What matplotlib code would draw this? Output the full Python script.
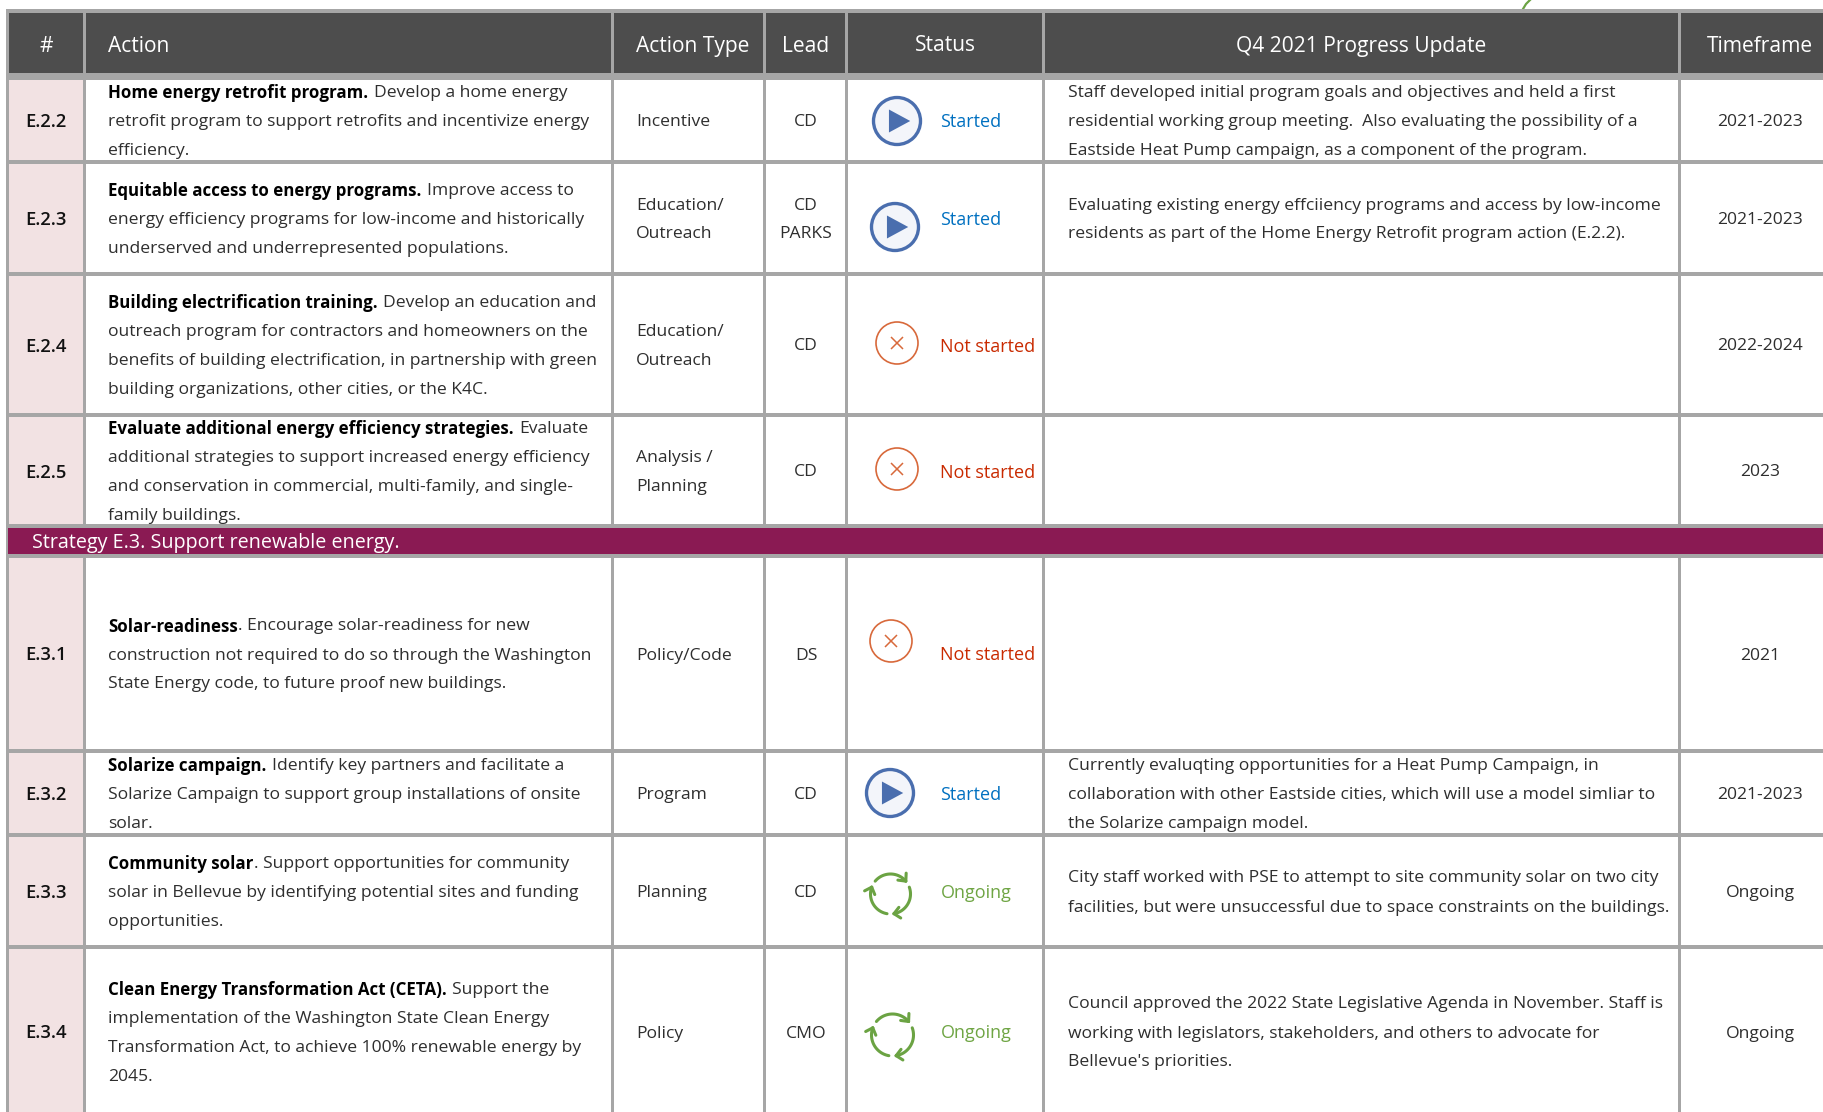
import numpy as np
import matplotlib
matplotlib.use("Agg")
import matplotlib.pyplot as plt
from matplotlib.patches import Rectangle, Circle, Polygon

FONT = "Open Sans"
plt.rcParams["font.family"] = [FONT, "DejaVu Sans"]

# table content
headers = ["#", "Action", "Action Type", "Lead", "Status", "Q4 2021 Progress Update", "Timeframe"]
ids = ["E.2.2", "E.2.3", "E.2.4", "E.2.5", "E.3.1", "E.3.2", "E.3.3", "E.3.4"]
bold_parts = [
    "Home energy retrofit program.",
    "Equitable access to energy programs.",
    "Building electrification training.",
    "Evaluate additional energy efficiency strategies.",
    "Solar-readiness",
    "Solarize campaign.",
    "Community solar",
    "Clean Energy Transformation Act (CETA).",
]
action_lines = [
    [" Develop a home energy", "retrofit program to support retrofits and incentivize energy", "efficiency."],
    [" Improve access to", "energy efficiency programs for low-income and historically", "underserved and underrepresented populations."],
    [" Develop an education and", "outreach program for contractors and homeowners on the",
     "benefits of building electrification, in partnership with green", "building organizations, other cities, or the K4C."],
    [" Evaluate", "additional strategies to support increased energy efficiency",
     "and conservation in commercial, multi-family, and single-", "family buildings."],
    [". Encourage solar-readiness for new", "construction not required to do so through the Washington",
     "State Energy code, to future proof new buildings."],
    [" Identify key partners and facilitate a", "Solarize Campaign to support group installations of onsite", "solar."],
    [". Support opportunities for community", "solar in Bellevue by identifying potential sites and funding", "opportunities."],
    [" Support the", "implementation of the Washington State Clean Energy",
     "Transformation Act, to achieve 100% renewable energy by", "2045."],
]
action_types = [["Incentive"], ["Education/", "Outreach"], ["Education/", "Outreach"], ["Analysis /", "Planning"],
                ["Policy/Code"], ["Program"], ["Planning"], ["Policy"]]
leads = [["CD"], ["CD", "PARKS"], ["CD"], ["CD"], ["DS"], ["CD"], ["CD"], ["CMO"]]
statuses = ["Started", "Started", "Not started", "Not started", "Not started", "Started", "Ongoing", "Ongoing"]
updates = [
    ["Staff developed initial program goals and objectives and held a first",
     "residential working group meeting.  Also evaluating the possibility of a",
     "Eastside Heat Pump campaign, as a component of the program."],
    ["Evaluating existing energy effciiency programs and access by low-income",
     "residents as part of the Home Energy Retrofit program action (E.2.2)."],
    [], [], [],
    ["Currently evaluqting opportunities for a Heat Pump Campaign, in",
     "collaboration with other Eastside cities, which will use a model simliar to",
     "the Solarize campaign model."],
    ["City staff worked with PSE to attempt to site community solar on two city",
     "facilities, but were unsuccessful due to space constraints on the buildings."],
    ["Council approved the 2022 State Legislative Agenda in November. Staff is",
     "working with legislators, stakeholders, and others to advocate for",
     "Bellevue's priorities."],
]
timeframes = ["2021-2023", "2021-2023", "2022-2024", "2023", "2021", "2021-2023", "Ongoing", "Ongoing"]
strategy = "Strategy E.3. Support renewable energy."

# layout in pixels
col_x = [8, 85, 612.5, 765, 847, 1044, 1680]
row_top = [80, 164, 276, 417, 558, 753, 837, 949]
row_bot = [160, 272, 413, 524, 749, 833, 945, 1114]
icon_x = [897, 895, 897, 897, 891, 890, 890.5, 892.5]
icon_y = [121, 227, 343, 469, 641, 793, 894, 1035]
icon_r = [25, 25, 21, 21, 21, 25, 20, 21]

GREY = "#A6A6A6"
HEAD = "#4D4D4D"
PINK = "#F2E2E3"
PLUM = "#8A1A53"
TXT = "#2E2E2E"
BLUE = "#4A6EAE"
ORANGE = "#D8693B"
GREEN = "#6BA343"
status_col = {"Started": "#0070C0", "Not started": "#C92A00", "Ongoing": "#6FA544"}

FS = 12.6
PITCH = 29
DY = 0

fig = plt.figure(figsize=(18.24, 11.12), dpi=100)
ax = fig.add_axes([0, 0, 1, 1])
ax.set_xlim(0, 1824)
ax.set_ylim(1112, 0)
ax.axis("off")


def hline(y0, y1):
    ax.add_patch(Rectangle((6.5, y0), 1830, y1 - y0, fc=GREY, ec="none", zorder=3))


def multiline(x, yc, lines, ha="left", color=TXT, fs=FS):
    n = len(lines)
    for i, s in enumerate(lines):
        ax.text(x, yc + (i - (n - 1) / 2) * PITCH + DY, s, ha=ha, va="center_baseline", color=color, fontsize=fs, zorder=6)


def play_icon(x, y, r):
    ax.add_patch(Circle((x, y), r - 1.5, fc="#F3F5FA", ec=BLUE, lw=2.4, zorder=5))
    s = r * 0.46
    ax.add_patch(Polygon([(x - s * 0.7, y - s), (x - s * 0.7, y + s), (x + s * 1.15, y)], fc=BLUE, ec="none", zorder=6))


def cross_icon(x, y, r):
    ax.add_patch(Circle((x, y), r, fc="white", ec=ORANGE, lw=1.2, zorder=5))
    d = r * 0.26
    ax.plot([x - d, x + d], [y - d, y + d], color=ORANGE, lw=1.1, zorder=6)
    ax.plot([x - d, x + d], [y + d, y - d], color=ORANGE, lw=1.1, zorder=6)


def cycle_icon(x, y, r):
    # three arcs going clockwise on screen, each one ending in an arrow head
    for start in [-140, -20, 100]:
        t = np.radians(np.linspace(start, start + 100, 30))
        ax.plot(x + r * np.cos(t), y + r * np.sin(t), color=GREEN, lw=2.2, solid_capstyle="round", zorder=6)
        ex, ey = x + r * np.cos(t[-1]), y + r * np.sin(t[-1])
        a = t[-1] + np.pi / 2
        for da in [2.4, -2.4]:
            ax.plot([ex, ex + 8 * np.cos(a + da)], [ey, ey + 8 * np.sin(a + da)], color=GREEN, lw=2.2,
                    solid_capstyle="round", zorder=6)


# backgrounds
ax.add_patch(Rectangle((col_x[0], 13), 1830, 60, fc=HEAD, ec="none", zorder=1))
ax.add_patch(Rectangle((col_x[0], 80), col_x[1] - col_x[0], 1040, fc=PINK, ec="none", zorder=1))
ax.add_patch(Rectangle((col_x[0], 528), 1830, 26, fc=PLUM, ec="none", zorder=4))

# the bit of green curve poking in above the table
ax.plot([1523, 1526, 1530], [9, 4, 0], color=GREEN, lw=1.6, zorder=2)

# grid
for x in col_x:
    ax.add_patch(Rectangle((x - 1.5, 9), 3, 1110, fc=GREY, ec="none", zorder=2))
ax.add_patch(Rectangle((6.5, 9), 1830, 4, fc=GREY, ec="none", zorder=3))
hline(73, 80)
for y in row_bot[:3]:
    hline(y, y + 4)
hline(524, 528)
hline(554, 558)
for y in row_bot[4:7]:
    hline(y, y + 4)

# header
HFS = 15.1
head_x = [46, 108.5, 636, 806, 945, 1361, 1760]
head_y = [44, 44, 44, 44, 43, 44, 44]
head_ha = ["center", "left", "left", "center", "center", "center", "center"]
for s, x, y, ha in zip(headers, head_x, head_y, head_ha):
    ax.text(x, y, s, color="white", fontsize=HFS, ha=ha, va="center_baseline", zorder=6)

ax.text(32, 540.5, strategy, color="white", fontsize=14.2, ha="left", va="center_baseline", zorder=6)

fig.canvas.draw()
rend = fig.canvas.get_renderer()

for i in range(len(ids)):
    yc = (row_top[i] + row_bot[i]) / 2
    ax.text(46, yc + DY, ids[i], ha="center", va="center_baseline", fontsize=FS + 0.6, fontweight="semibold", color="#111111", zorder=6)

    # first line of the action: bold run, then the regular text right after it
    lines = action_lines[i]
    n = len(lines)
    y0 = yc - (n - 1) / 2 * PITCH + DY
    b = ax.text(108.5, y0, bold_parts[i], ha="left", va="center_baseline", fontsize=FS - 0.4, fontweight="bold", color="black", zorder=6)
    w = b.get_window_extent(rend).x1
    ax.text(w + (5 if lines[0].startswith(" ") else 0), y0, lines[0].strip(), ha="left", va="center_baseline",
            fontsize=FS, color=TXT, zorder=6)
    for j, s in enumerate(lines[1:]):
        ax.text(108.5, y0 + (j + 1) * PITCH, s, ha="left", va="center_baseline", fontsize=FS, color=TXT, zorder=6)

    multiline(636, yc, action_types[i])
    multiline(806, yc, leads[i], ha="center")
    multiline(1068, yc, updates[i])
    multiline(1760, yc, [timeframes[i]], ha="center")

    ax.text(940.5, yc + DY, statuses[i], color=status_col[statuses[i]], fontsize=FS + 0.35, ha="left", va="center_baseline",
            fontweight="medium", zorder=6)
    if statuses[i] == "Started":
        play_icon(icon_x[i], icon_y[i], icon_r[i])
    elif statuses[i] == "Not started":
        cross_icon(icon_x[i], icon_y[i], icon_r[i])
    else:
        cycle_icon(icon_x[i], icon_y[i], icon_r[i])

fig.savefig("out.png", dpi=100)
